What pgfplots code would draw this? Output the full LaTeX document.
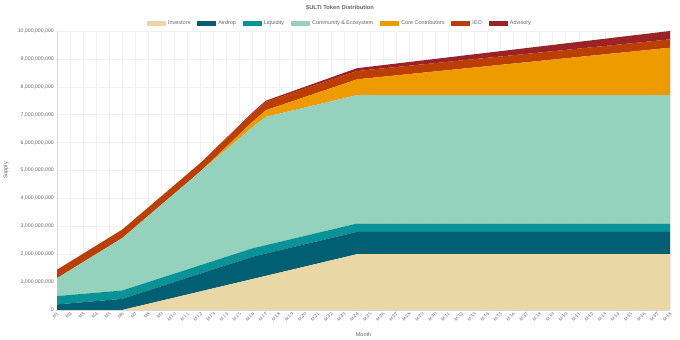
\documentclass[border=0pt]{standalone}
\usepackage{pgfplots}
\pgfplotsset{compat=1.18}
\usepackage{pgfplotstable}
\usepackage{fontspec}
\setmainfont{Liberation Sans}
\definecolor{cInv}{HTML}{E9D8A6}
\definecolor{cAir}{HTML}{005F73}
\definecolor{cLiq}{HTML}{0A9396}
\definecolor{cCom}{HTML}{94D2BD}
\definecolor{cCore}{HTML}{EE9B00}
\definecolor{cIeo}{HTML}{BB3E03}
\definecolor{cAdv}{HTML}{9B2226}
\definecolor{txt}{HTML}{666666}
% values in millions of tokens
\pgfplotstableread{
m inv air liq com core ieo adv
1 0 200 300 640 0 300 0
2 0 240 300 887.5 0 300 0
3 0 280 300 1135 0 300 0
4 0 320 300 1382.5 0 300 0
5 0 360 300 1630 0 300 0
6 0 400 300 1877.5 0 300 0
7 111.1 440 300 2125 0 300 0
8 222.2 480 300 2372.5 0 300 0
9 333.3 520 300 2620 0 300 0
10 444.4 560 300 2867.5 0 300 0
11 555.6 600 300 3115 0 300 0
12 666.7 640 300 3362.5 0 300 0
13 777.8 680 300 3610 47.2 300 8.3
14 888.9 720 300 3857.5 94.4 300 16.7
15 1000 760 300 4105 141.7 300 25
16 1111.1 800 300 4352.5 188.9 300 33.3
17 1222.2 800 300 4600 236.1 300 41.7
18 1333.3 800 300 4600 283.3 300 50
19 1444.4 800 300 4600 330.6 300 58.3
20 1555.6 800 300 4600 377.8 300 66.7
21 1666.7 800 300 4600 425 300 75
22 1777.8 800 300 4600 472.2 300 83.3
23 1888.9 800 300 4600 519.4 300 91.7
24 2000 800 300 4600 566.7 300 100
25 2000 800 300 4600 613.9 300 108.3
26 2000 800 300 4600 661.1 300 116.7
27 2000 800 300 4600 708.3 300 125
28 2000 800 300 4600 755.6 300 133.3
29 2000 800 300 4600 802.8 300 141.7
30 2000 800 300 4600 850 300 150
31 2000 800 300 4600 897.2 300 158.3
32 2000 800 300 4600 944.4 300 166.7
33 2000 800 300 4600 991.7 300 175
34 2000 800 300 4600 1038.9 300 183.3
35 2000 800 300 4600 1086.1 300 191.7
36 2000 800 300 4600 1133.3 300 200
37 2000 800 300 4600 1180.6 300 208.3
38 2000 800 300 4600 1227.8 300 216.7
39 2000 800 300 4600 1275 300 225
40 2000 800 300 4600 1322.2 300 233.3
41 2000 800 300 4600 1369.4 300 241.7
42 2000 800 300 4600 1416.7 300 250
43 2000 800 300 4600 1463.9 300 258.3
44 2000 800 300 4600 1511.1 300 266.7
45 2000 800 300 4600 1558.3 300 275
46 2000 800 300 4600 1605.6 300 283.3
47 2000 800 300 4600 1652.8 300 291.7
48 2000 800 300 4600 1700 300 300
}\data
\begin{document}
\begin{tikzpicture}
\path[use as bounding box] (0bp,0bp) rectangle (680bp,340bp);
\begin{axis}[
  at={(57bp,30bp)}, anchor=south west,
  scale only axis, width=613bp, height=279bp,
  xmin=1, xmax=48, ymin=0, ymax=10000,
  stack plots=y, area style, axis on top=false,
  axis lines*=left,
  axis line style={draw=gray!30, line width=0.4bp},
  major tick length=0pt,
  grid=major, major grid style={draw=gray!12, line width=0.4bp},
  scaled y ticks=false, scaled x ticks=false,
  xtick={1,...,48},
  xticklabel={M\pgfmathprintnumber[int detect]{\tick}},
  xticklabel style={rotate=45, anchor=north east, inner sep=0.8bp, font=\fontsize{4.4}{5}\selectfont, text=txt},
  ytick={0,1000,...,10000},
  yticklabels={0,{1,000,000,000},{2,000,000,000},{3,000,000,000},{4,000,000,000},{5,000,000,000},{6,000,000,000},{7,000,000,000},{8,000,000,000},{9,000,000,000},{10,000,000,000}},
  yticklabel style={font=\fontsize{5.2}{6}\selectfont, text=txt, inner sep=1bp, xshift=-2bp},
  xlabel={Month}, ylabel={Supply},
  xlabel style={at={(axis description cs:0.5,-0.088)}, anchor=center, font=\fontsize{5.5}{6}\selectfont, text=txt},
  ylabel style={at={(axis description cs:-0.0832,0.5)}, anchor=center, font=\fontsize{5.5}{6}\selectfont, text=txt},
  legend columns=7,
  legend image code/.code={\fill[#1] (0bp,-2.5bp) rectangle (19bp,2.5bp);},
  legend style={draw=none, fill=none, at={(0.4617,1)}, anchor=south, yshift=3bp,
    font=\fontsize{5.5}{6}\selectfont, text=txt, inner sep=0pt,
    /tikz/every even column/.append style={column sep=5bp}},
]
\addplot[fill=cInv, draw=none] table[x=m, y=inv] {\data} \closedcycle;
\addlegendentry{Investors}
\addplot[fill=cAir, draw=none] table[x=m, y=air] {\data} \closedcycle;
\addlegendentry{Airdrop}
\addplot[fill=cLiq, draw=none] table[x=m, y=liq] {\data} \closedcycle;
\addlegendentry{Liquidity}
\addplot[fill=cCom, draw=none] table[x=m, y=com] {\data} \closedcycle;
\addlegendentry{Community \& Ecosystem}
\addplot[fill=cCore, draw=none] table[x=m, y=core] {\data} \closedcycle;
\addlegendentry{Core Contributors}
\addplot[fill=cIeo, draw=none] table[x=m, y=ieo] {\data} \closedcycle;
\addlegendentry{IEO}
\addplot[fill=cAdv, draw=none] table[x=m, y=adv] {\data} \closedcycle;
\addlegendentry{Advisory}
\end{axis}
\node[font=\bfseries\fontsize{5.8}{7}\selectfont, text=txt] at (340bp,332bp) {\$ULTI Token Distribution};
\end{tikzpicture}
\end{document}
